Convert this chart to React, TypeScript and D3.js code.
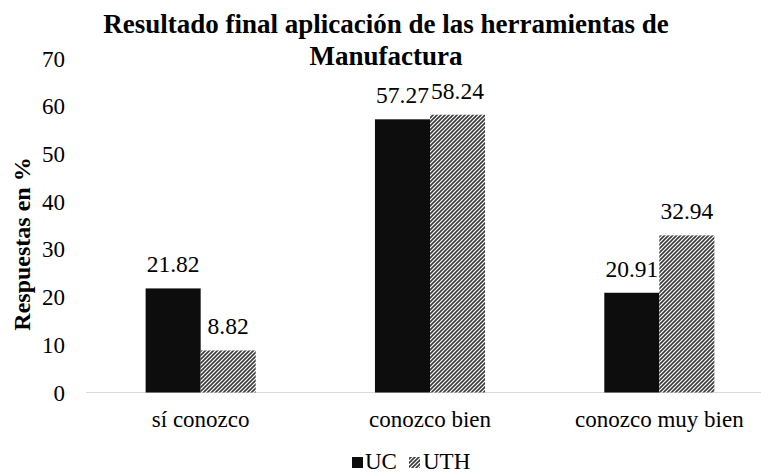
import React from "react";
import * as d3 from "d3";

const categories = ["sí conozco", "conozco bien", "conozco muy bien"];
const seriesNames = ["UC", "UTH"];
const ucValues = [21.82, 57.27, 20.91];
const uthValues = [8.82, 58.24, 32.94];
const yTicks = [0, 10, 20, 30, 40, 50, 60, 70];
const titleLines = ["Resultado final aplicación de las herramientas de", "Manufactura"];
const yAxisTitle = "Respuestas en %";

const W = 761;
const H = 475;
const FONT = "Liberation Serif";

export default function App() {
  const x0 = d3.scaleBand<string>().domain(categories).range([86, 774]).paddingInner(0.52).paddingOuter(0.26);
  const x1 = d3.scaleBand<string>().domain(seriesNames).range([0, x0.bandwidth()]);
  const y = d3.scaleLinear().domain([0, 70]).range([392.5, 58.6]);
  const series = [ucValues, uthValues];

  return (
    <svg width={W} height={H} style={{ position: "absolute", left: 0, top: 0, background: "#fff" }} fontFamily={FONT}>
      <defs>
        <pattern id="hatch" patternUnits="userSpaceOnUse" width={4} height={4}>
          <rect width={4} height={4} fill="#fff" />
          <path d="M-1,1 l2,-2 M0,4 l4,-4 M3,5 l2,-2" stroke="#3a3a3a" strokeWidth={1.6} />
        </pattern>
      </defs>
      <rect width={W} height={H} fill="#fff" />
      {titleLines.map((t, i) => (
        <text key={t} x={386} y={33 + i * 32} textAnchor="middle" fontSize={27} fontWeight="bold" fill="#000" fontFamily={FONT}>
          {t}
        </text>
      ))}
      <text transform={`translate(30,${244}) rotate(-90)`} textAnchor="middle" fontSize={24} fontWeight="bold" fill="#000" fontFamily={FONT}>
        {yAxisTitle}
      </text>
      {yTicks.map((t) => (
        <text key={t} x={65} y={y(t)} dy="0.35em" textAnchor="end" fontSize={23} fill="#000" fontFamily={FONT}>
          {t}
        </text>
      ))}
      <line x1={86} x2={774} y1={y(0)} y2={y(0)} stroke="#d9d9d9" strokeWidth={1} />
      {categories.map((c, ci) => (
        <g key={c}>
          {seriesNames.map((s, si) => {
            const v = series[si][ci];
            const bx = (x0(c) ?? 0) + (x1(s) ?? 0);
            const bw = x1.bandwidth();
            return (
              <g key={s}>
                <rect
                  x={bx}
                  y={y(v)}
                  width={bw}
                  height={y(0) - y(v)}
                  fill={si === 0 ? "#0d0d0d" : "url(#hatch)"}
                />
                <text x={bx + bw / 2} y={y(v) - 16} textAnchor="middle" fontSize={23.5} fill="#000" fontFamily={FONT}>
                  {v.toFixed(2)}
                </text>
              </g>
            );
          })}
          <text x={(x0(c) ?? 0) + x0.bandwidth() / 2} y={427} textAnchor="middle" fontSize={23} fill="#000" fontFamily={FONT}>
            {c}
          </text>
        </g>
      ))}
      <g>
        <rect x={352} y={457} width={11} height={11} fill="#0d0d0d" />
        <text x={365} y={469} fontSize={23} fill="#000" fontFamily={FONT}>{seriesNames[0]}</text>
        <rect x={409} y={457} width={11} height={11} fill="url(#hatch)" />
        <text x={423} y={469} fontSize={23} fill="#000" fontFamily={FONT}>{seriesNames[1]}</text>
      </g>
    </svg>
  );
}
